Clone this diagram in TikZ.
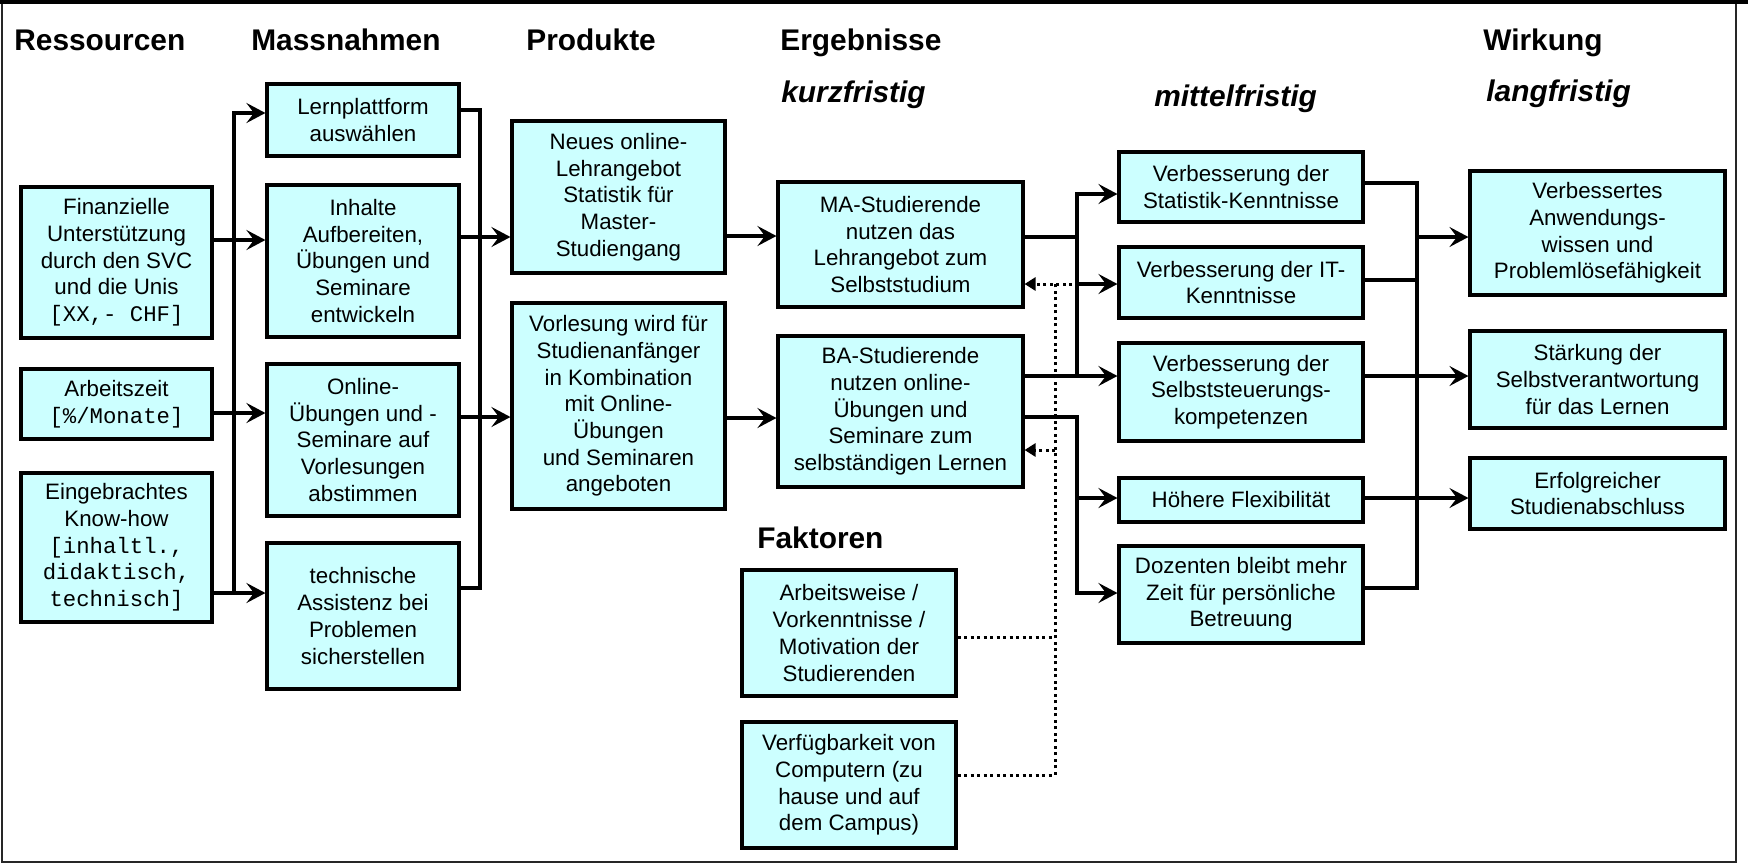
\documentclass[tikz,border=0pt]{standalone}
\usepackage{fontspec}
\setmainfont{Liberation Sans}
\setmonofont{Liberation Mono}
\usepackage{tikz}
\usetikzlibrary{arrows.meta}
\definecolor{tuerkis}{RGB}{204,255,255}
\tikzset{
  kasten/.style={ draw, line width=1.8pt, fill=tuerkis, align=center, inner sep=1pt,
    font=\fontsize{12.7}{15.2}\selectfont }
}
\tikzset{
  titel/.style={ anchor=base west, inner sep=0pt, font=\fontsize{17}{20}\selectfont\bfseries },
  zeit/.style={ titel, font=\fontsize{17}{20}\selectfont\bfseries\itshape }
}
\tikzset{
  ressource/.style={ kasten, minimum width=3.82cm },
  massnahme/.style={ kasten, minimum width=3.84cm },
  produkt/.style={ kasten, minimum width=4.26cm },
  ergebnis/.style={ kasten, minimum width=4.90cm },
  faktor/.style={ kasten, minimum width=4.28cm, minimum height=2.52cm },
  mittel/.style={ kasten, minimum width=4.88cm },
  wirkung/.style={ kasten, minimum width=5.10cm }
}
\tikzset{
  linie/.style={ line width=1.8pt },
  pfeil/.style={ linie, -{Stealth[length=3.8mm, width=4mm, inset=1.5mm]} },
  punkte/.style={ line width=1.7pt, dash pattern=on 1.7pt off 2pt },
  punktpfeil/.style={ punkte, -{Triangle[length=2.2mm, width=2.6mm]} }
}

\begin{document}
\begin{tikzpicture}[x=0.02cm, y=-0.02cm]
  \useasboundingbox (0,0) rectangle (1748,866);
  \draw[black!85, line width=0.8pt] (2,3) rectangle (1736,862);
  \draw[line width=2.5pt] (0,1.5) -- (1748,1.5);

  % Ueberschriften
  \node[titel] (tres) at (14, 50) {Ressourcen};
  \node[titel] (tmas) at (251, 50) {Massnahmen};
  \node[titel] (tpro) at (526, 50) {Produkte};
  \node[titel] (terg) at (780, 50) {Ergebnisse};
  \node[titel] (twir) at (1483, 50) {Wirkung};
  \node[zeit] (tkurz) at (781, 102) {kurzfristig};
  \node[zeit] (tmit) at (1154, 106) {mittelfristig};
  \node[zeit] (tlang) at (1486, 101) {langfristig};
  \node[titel] (tfak) at (757, 548) {Faktoren};

  % Ressourcen
  \node[ressource, minimum height=3.02cm] (res1) at (116.5, 262.5)
    {Finanzielle\\Unterstützung\\durch den SVC\\und die Unis\\\texttt{[XX,- CHF]}};
  \node[ressource, minimum height=1.40cm] (res2) at (116.5, 404)
    {Arbeitszeit\\\texttt{[\%/Monate]}};
  \node[ressource, minimum height=2.98cm] (res3) at (116.5, 547.5)
    {Eingebrachtes\\Know-how\\\texttt{[inhaltl.,}\\\texttt{didaktisch,}\\\texttt{technisch]}};

  % Massnahmen
  \node[massnahme, minimum height=1.44cm] (mas1) at (363, 120) {Lernplattform\\auswählen};
  \node[massnahme, minimum height=3.04cm] (mas2) at (363, 261)
    {Inhalte\\Aufbereiten,\\Übungen und\\Seminare\\entwickeln};
  \node[massnahme, minimum height=3.04cm] (mas3) at (363, 440)
    {Online-\\Übungen und -\\Seminare auf\\Vorlesungen\\abstimmen};
  \node[massnahme, minimum height=2.92cm] (mas4) at (363, 616)
    {technische\\Assistenz bei\\Problemen\\sicherstellen};

  % Produkte
  \node[produkt, minimum height=3.04cm] (pro1) at (618.5, 197)
    {Neues online-\\Lehrangebot\\Statistik für\\Master-\\Studiengang};
  \node[produkt, minimum height=4.12cm] (pro2) at (618.5, 406)
    {Vorlesung wird für\\Studienanfänger\\in Kombination\\mit Online-\\Übungen\\und Seminaren\\angeboten};

  % Ergebnisse kurzfristig
  \node[ergebnis, minimum height=2.50cm] (erg1) at (900.5, 244.5)
    {MA-Studierende\\nutzen das\\Lehrangebot zum\\Selbststudium};
  \node[ergebnis, minimum height=3.02cm] (erg2) at (900.5, 411.5)
    {BA-Studierende\\nutzen online-\\Übungen und\\Seminare zum\\selbständigen Lernen};

  % Faktoren
  \node[faktor] (fak1) at (849, 633)
    {Arbeitsweise /\\Vorkenntnisse /\\Motivation der\\Studierenden};
  \node[faktor] (fak2) at (849, 785)
    {Verfügbarkeit von\\Computern (zu\\hause und auf\\dem Campus)};

  % Ergebnisse mittelfristig
  \node[mittel, minimum height=1.40cm] (mit1) at (1241, 187) {Verbesserung der\\Statistik-Kenntnisse};
  \node[mittel, minimum height=1.42cm] (mit2) at (1241, 282.5) {Verbesserung der IT-\\Kenntnisse};
  \node[mittel, minimum height=1.96cm] (mit3) at (1241, 392)
    {Verbesserung der\\Selbststeuerungs-\\kompetenzen};
  \node[mittel, minimum height=0.88cm] (mit4) at (1241, 500) {Höhere Flexibilität};
  \node[mittel, minimum height=1.94cm] (mit5) at (1241, 594.5)
    {Dozenten bleibt mehr\\Zeit für persönliche\\Betreuung};

  % Wirkung
  \node[wirkung, minimum height=2.48cm] (wir1) at (1597.5, 233)
    {Verbessertes\\Anwendungs-\\wissen und\\Problemlösefähigkeit};
  \node[wirkung, minimum height=1.94cm] (wir2) at (1597.5, 379.5)
    {Stärkung der\\Selbstverantwortung\\für das Lernen};
  \node[wirkung, minimum height=1.42cm] (wir3) at (1597.5, 493.5)
    {Erfolgreicher\\Studienabschluss};

  % Ressourcen -> Massnahmen
  \draw[pfeil] (res1.east |- 0,240) -- (mas2.west |- 0,240);
  \draw[pfeil] (res2.east |- 0,413) -- (mas3.west |- 0,413);
  \draw[pfeil] (res3.east |- 0,593) -- (mas4.west |- 0,593);
  \draw[pfeil] (234,593) |- (mas1.west |- 0,113);

  % Massnahmen -> Produkte
  \draw[linie] (mas1.east |- 0,110) -| (480,588) -- (mas4.east |- 0,588);
  \draw[pfeil] (mas2.east |- 0,237) -- (pro1.west |- 0,237);
  \draw[pfeil] (mas3.east |- 0,417) -- (pro2.west |- 0,417);

  % Produkte -> Ergebnisse
  \draw[pfeil] (pro1.east |- 0,236) -- (erg1.west |- 0,236);
  \draw[pfeil] (pro2.east |- 0,418) -- (erg2.west |- 0,418);

  % kurzfristig -> mittelfristig
  \draw[pfeil] (erg1.east |- 0,237) -| (1077,194) -- (mit1.west |- 0,194);
  \draw[linie] (1077,237) -- (1077,376);
  \draw[pfeil] (1077,284) -- (mit2.west |- 0,284);
  \draw[pfeil] (erg2.east |- 0,376) -- (mit3.west |- 0,376);
  \draw[pfeil] (erg2.east |- 0,417) -| (1077,593) -- (mit5.west |- 0,593);
  \draw[pfeil] (1077,498) -- (mit4.west |- 0,498);

  % Faktoren
  \draw[punkte] (fak2.east |- 0,775) -| (1055,284);
  \draw[punkte] (fak1.east |- 0,637) -- (1055,637);
  \draw[punktpfeil] (1072,284) -- (erg1.east |- 0,284);
  \draw[punktpfeil] (1055,450) -- (erg2.east |- 0,450);

  % mittelfristig -> Wirkung
  \draw[linie] (mit1.east |- 0,183) -| (1417,588) -- (mit5.east |- 0,588);
  \draw[linie] (mit2.east |- 0,280) -- (1417,280);
  \draw[pfeil] (1417,237) -- (wir1.west |- 0,237);
  \draw[pfeil] (mit3.east |- 0,376) -- (wir2.west |- 0,376);
  \draw[pfeil] (mit4.east |- 0,498) -- (wir3.west |- 0,498);
\end{tikzpicture}
\end{document}
